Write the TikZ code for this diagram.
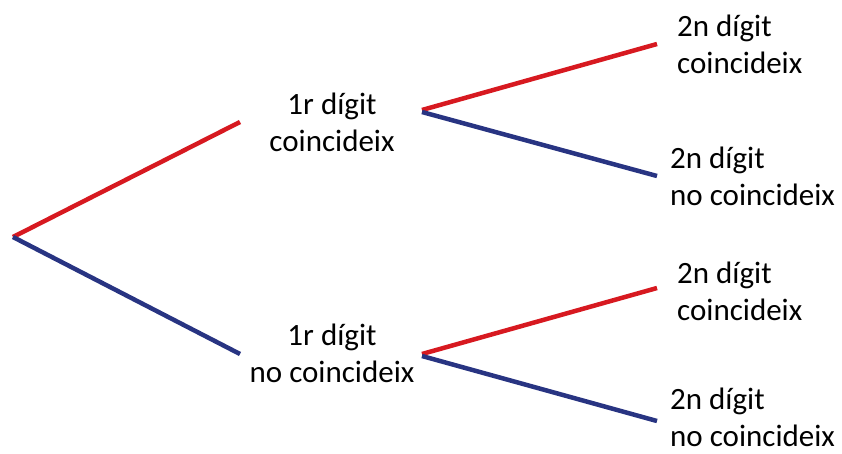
\documentclass[tikz,border=0pt]{standalone}
\usepackage{fontspec}
\setmainfont{Carlito}
\definecolor{tred}{RGB}{215,25,32}
\definecolor{tblue}{RGB}{40,52,130}
\begin{document}
\begin{tikzpicture}[x=1pt,y=-1pt,
  lbl/.style={font=\fontsize{31}{37}\selectfont, inner sep=0pt},
  midlbl/.style={lbl, align=center, anchor=base},
  endlbl/.style={lbl, align=left, anchor=base west},
  redline/.style={draw=tred, line width=4.5pt},
  blueline/.style={draw=tblue, line width=4.5pt}]
\useasboundingbox (0,0) rectangle (842,453);
% coordinates
\coordinate (root) at (13,237);
\coordinate (r1) at (240,122);
\coordinate (b1) at (240,354);
\coordinate (fu) at (422,110);
\coordinate (fl) at (422,354);
\coordinate (ru1) at (657,44);
\coordinate (bu1) at (657,176);
\coordinate (rl1) at (657,288);
\coordinate (bl1) at (657,421);
% labels
\node[midlbl] (m1) at (332,151) {1r dígit\\coincideix};
\node[midlbl] (m2) at (332,382) {1r dígit\\no coincideix};
\node[endlbl] (e1) at (677,73) {2n dígit\\coincideix};
\node[endlbl] (e2) at (670,205) {2n dígit\\no coincideix};
\node[endlbl] (e3) at (677,320) {2n dígit\\coincideix};
\node[endlbl, text depth=0pt] (e4) at (670,446) {2n dígit\\no coincideix};
% branches
\draw[redline] (root) -- (r1);
\draw[blueline] (root) -- (b1);
\draw[redline] (fu) -- (ru1);
\draw[blueline] ([yshift=-2pt]fu) -- (bu1);
\draw[redline] (fl) -- (rl1);
\draw[blueline] ([yshift=-2pt]fl) -- (bl1);
\end{tikzpicture}
\end{document}
